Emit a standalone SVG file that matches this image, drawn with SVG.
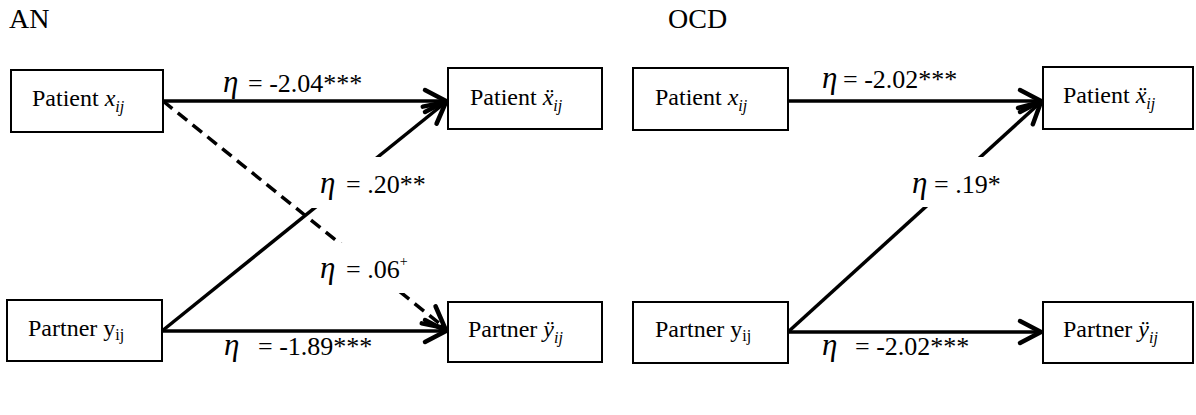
<svg xmlns="http://www.w3.org/2000/svg" width="1196" height="415" viewBox="0 0 1196 415">
<style>
text{font-family:'Liberation Serif','Times New Roman',Tinos,'Noto Serif','DejaVu Serif',serif;fill:#000}
.title{font-size:28px}
.box{fill:#fff;stroke:#000;stroke-width:2}
.nt{font-size:24px}
.mi{font-style:italic}
.sub{font-size:16px;font-style:italic}
.subu{font-size:16px}
.lbl{font-size:26px}
.eta{font-style:italic;font-size:31px}
.sup{font-size:14px}
.edge{fill:none;stroke:#000;stroke-width:3.5}
.dash{stroke-dasharray:12 7}
.bg{fill:#fff;stroke:none}
</style>
<defs>
<marker id="arr" markerUnits="userSpaceOnUse" viewBox="-26 -16 30 32" refX="0" refY="0" markerWidth="30" markerHeight="32" orient="auto" overflow="visible">
<path d="M-21,-11 L0,0 L-21,11" fill="none" stroke="#000" stroke-width="4.5" stroke-linecap="round" stroke-linejoin="round"/>
</marker>
</defs>
<rect width="1196" height="415" fill="#fff"/>
<text class="title" x="9" y="28">AN</text>
<text class="title" x="668" y="28">OCD</text>

<g id="connectors">
<line class="edge" x1="163" y1="101" x2="446" y2="101" marker-end="url(#arr)"/>
<line class="edge" x1="162" y1="331" x2="446" y2="102" marker-end="url(#arr)"/>
<line class="edge dash" x1="163" y1="101" x2="445" y2="328" marker-end="url(#arr)"/>
<line class="edge" x1="162" y1="331" x2="446" y2="331" marker-end="url(#arr)"/>
<line class="edge" x1="788" y1="101" x2="1041" y2="101" marker-end="url(#arr)"/>
<line class="edge" x1="788" y1="332" x2="1041" y2="102" marker-end="url(#arr)"/>
<line class="edge" x1="788" y1="332" x2="1041" y2="332" marker-end="url(#arr)"/>
</g>

<g id="labels">
<text class="lbl" y="92"><tspan class="eta" x="223">η</tspan><tspan x="248">= -2.04***</tspan></text>
<rect class="bg" x="305" y="157" width="125" height="51"/>
<text class="lbl" y="193"><tspan class="eta" x="320">η</tspan><tspan x="346">= .20**</tspan></text>
<rect class="bg" x="305" y="243" width="125" height="50"/>
<text class="lbl" y="278"><tspan class="eta" x="320">η</tspan><tspan x="346">= .06</tspan><tspan class="sup" dy="-12">+</tspan></text>
<text class="lbl" y="355"><tspan class="eta" x="224">η</tspan><tspan x="258">= -1.89***</tspan></text>
<text class="lbl" y="88"><tspan class="eta" x="822">η</tspan><tspan x="843">= -2.02***</tspan></text>
<rect class="bg" x="900" y="157" width="100" height="50"/>
<text class="lbl" y="193"><tspan class="eta" x="912">η</tspan><tspan x="934">= .19*</tspan></text>
<text class="lbl" y="355"><tspan class="eta" x="822">η</tspan><tspan x="855">= -2.02***</tspan></text>
</g>

<g id="an-patient-x">
<rect class="box" x="11" y="70" width="152" height="62"/>
<text class="nt" x="32" y="106">Patient <tspan class="mi">x</tspan><tspan class="sub" dy="6">ij</tspan></text>
</g>
<g id="an-patient-xdd">
<rect class="box" x="448" y="68" width="154" height="61"/>
<text class="nt" x="470" y="105">Patient <tspan class="mi">ẍ</tspan><tspan class="sub" dy="6">ij</tspan></text>
</g>
<g id="an-partner-y">
<rect class="box" x="7" y="300" width="155" height="61"/>
<text class="nt" x="28" y="336">Partner y<tspan class="subu" dy="4">ij</tspan></text>
</g>
<g id="an-partner-ydd">
<rect class="box" x="448" y="302" width="154" height="60"/>
<text class="nt" x="468" y="337">Partner <tspan class="mi">ÿ</tspan><tspan class="sub" dy="6">ij</tspan></text>
</g>

<g id="ocd-patient-x">
<rect class="box" x="633" y="68" width="155" height="62"/>
<text class="nt" x="655" y="105">Patient <tspan class="mi">x</tspan><tspan class="sub" dy="6">ij</tspan></text>
</g>
<g id="ocd-patient-xdd">
<rect class="box" x="1043" y="67" width="150" height="62"/>
<text class="nt" x="1063" y="103">Patient <tspan class="mi">ẍ</tspan><tspan class="sub" dy="6">ij</tspan></text>
</g>
<g id="ocd-partner-y">
<rect class="box" x="633" y="302" width="155" height="61"/>
<text class="nt" x="655" y="337">Partner y<tspan class="subu" dy="4">ij</tspan></text>
</g>
<g id="ocd-partner-ydd">
<rect class="box" x="1043" y="302" width="150" height="61"/>
<text class="nt" x="1063" y="337">Partner <tspan class="mi">ÿ</tspan><tspan class="sub" dy="6">ij</tspan></text>
</g>
</svg>
